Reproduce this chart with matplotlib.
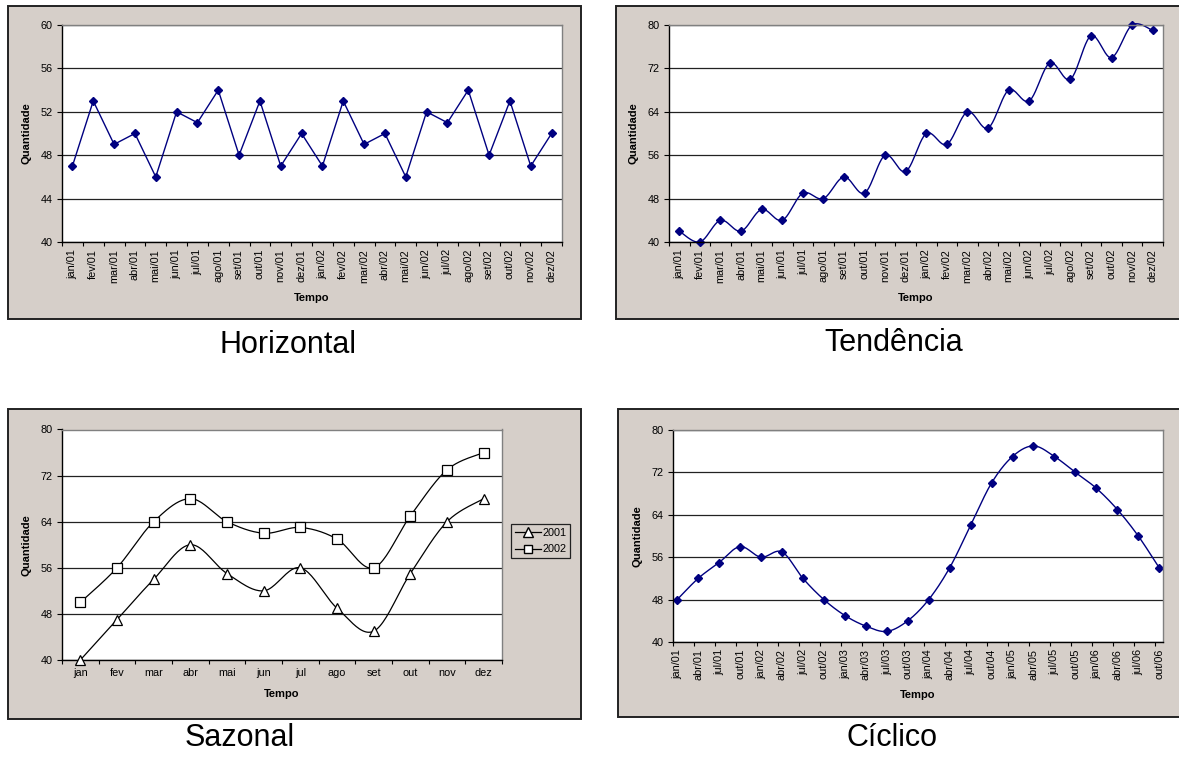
import numpy as np
import matplotlib
matplotlib.use("Agg")
import matplotlib.pyplot as plt
from matplotlib.patches import Rectangle

plt.rcParams["font.family"] = ["Liberation Sans", "DejaVu Sans"]

# --- data -------------------------------------------------------------
meses = ["jan", "fev", "mar", "abr", "mai", "jun",
         "jul", "ago", "set", "out", "nov", "dez"]
meses_2anos = [f"{m}/01" for m in meses] + [f"{m}/02" for m in meses]

horizontal = [47, 53, 49, 50, 46, 52, 51, 54, 48, 53, 47, 50,
              47, 53, 49, 50, 46, 52, 51, 54, 48, 53, 47, 50]

tendencia = [42, 40, 44, 42, 46, 44, 49, 48, 52, 49, 56, 53,
             60, 58, 64, 61, 68, 66, 73, 70, 78, 74, 80, 79]

sazonal_2001 = [40, 47, 54, 60, 55, 52, 56, 49, 45, 55, 64, 68]
sazonal_2002 = [50, 56, 64, 68, 64, 62, 63, 61, 56, 65, 73, 76]

trimestres = [f"{m}/{a:02d}" for a in range(1, 7) for m in ["jan", "abr", "jul", "out"]]
ciclico = [48, 52, 55, 58, 56, 57, 52, 48, 45, 43, 42, 44,
           48, 54, 62, 70, 75, 77, 75, 72, 69, 65, 60, 54]

W, H = 1179, 760
FRAME = "#d6cfc9"
NAVY = "#000080"
TICK_FS = 7.8
LABEL_FS = 8


def excel_smooth(y, n=24):
    """Bezier smoothing like a spreadsheet 'smoothed line' (Catmull-Rom, 1/6)."""
    pts = np.column_stack([np.arange(len(y)), y]).astype(float)
    out = [pts[:1]]
    t = np.linspace(0, 1, n)[1:, None]
    for i in range(len(pts) - 1):
        p0 = pts[i - 1] if i > 0 else pts[i]
        p1, p2 = pts[i], pts[i + 1]
        p3 = pts[i + 2] if i + 2 < len(pts) else pts[i + 1]
        c1 = p1 + (p2 - p0) / 6
        c2 = p2 - (p3 - p1) / 6
        seg = (1 - t) ** 3 * p1 + 3 * (1 - t) ** 2 * t * c1 + 3 * (1 - t) * t ** 2 * c2 + t ** 3 * p2
        out.append(seg)
    return np.vstack(out)


def frame(fig, x0, y0, x1, y1):
    fig.patches.append(Rectangle((x0 / W, 1 - y1 / H), (x1 - x0) / W, (y1 - y0) / H,
                                 transform=fig.transFigure, facecolor=FRAME,
                                 edgecolor="#222222", linewidth=1.4, zorder=-5))


def make_axes(fig, x0, y0, x1, y1):
    ax = fig.add_axes([x0 / W, 1 - y1 / H, (x1 - x0) / W, (y1 - y0) / H])
    ax.set_facecolor("white")
    for side in ("top", "right"):
        ax.spines[side].set_color("#808080")
        ax.spines[side].set_linewidth(1.0)
    for side in ("left", "bottom"):
        ax.spines[side].set_color("black")
        ax.spines[side].set_linewidth(1.0)
    ax.grid(axis="y", color="#222222", linewidth=0.9)
    ax.set_axisbelow(True)
    ax.tick_params(axis="y", direction="out", length=3.5, width=0.8, labelsize=TICK_FS, pad=3)
    ax.tick_params(axis="x", which="major", length=0, labelsize=TICK_FS, pad=5)
    ax.tick_params(axis="x", which="minor", direction="out", length=3, width=0.8)
    return ax


def labels(ax, xpad=7):
    ax.set_ylabel("Quantidade", fontsize=LABEL_FS, fontweight="bold", labelpad=7)
    ax.set_xlabel("Tempo", fontsize=LABEL_FS, fontweight="bold", labelpad=xpad)


def category_axis(ax, cats, rotate=True):
    n = len(cats)
    ax.set_xlim(-0.5, n - 0.5)
    ax.set_xticks(range(n))
    ax.set_xticklabels(cats, rotation=90 if rotate else 0)
    ax.set_xticks(np.arange(n + 1) - 0.5, minor=True)


fig = plt.figure(figsize=(W / 100, H / 100), dpi=100)

# --- Horizontal -------------------------------------------------------
frame(fig, 8, 5.5, 581, 318.5)
ax = make_axes(fig, 62, 25, 562, 242)
category_axis(ax, meses_2anos)
ax.plot(range(len(horizontal)), horizontal, color=NAVY, lw=1, marker="D", ms=3.8)
ax.set_ylim(40, 60)
ax.set_yticks(range(40, 61, 4))
labels(ax)
fig.text(288 / W, 1 - 345 / H, "Horizontal", ha="center", va="center", fontsize=22)

# --- Tendência --------------------------------------------------------
frame(fig, 616, 6, 1190, 318.5)
ax = make_axes(fig, 669, 25, 1163, 242)
category_axis(ax, meses_2anos)
s = excel_smooth(tendencia)
ax.plot(s[:, 0], s[:, 1], color=NAVY, lw=1, clip_on=False)
ax.plot(range(len(tendencia)), tendencia, ls="none", color=NAVY, marker="D", ms=3.8, clip_on=False)
ax.set_ylim(40, 80)
ax.set_yticks(range(40, 81, 8))
labels(ax)
fig.text(894 / W, 1 - 343 / H, "Tendência", ha="center", va="center", fontsize=22)

# --- Sazonal ----------------------------------------------------------
frame(fig, 8, 409, 581, 718.5)
ax = make_axes(fig, 62, 429.5, 502, 660)
category_axis(ax, meses, rotate=False)
ax.tick_params(axis="x", which="major", pad=6)
for serie, mk, ms in [(sazonal_2001, "^", 7.5), (sazonal_2002, "s", 7)]:
    s = excel_smooth(serie)
    ax.plot(s[:, 0], s[:, 1], color="black", lw=0.9, clip_on=False)
    ax.plot(range(12), serie, ls="none", marker=mk, ms=ms, mfc="white", mec="black",
            mew=0.9, clip_on=False, zorder=3)
ax.set_ylim(40, 80)
ax.set_yticks(range(40, 81, 8))
labels(ax, xpad=8)
handles = [plt.Line2D([], [], color="black", lw=0.9, marker="^", ms=6.5, mfc="white", mec="black"),
           plt.Line2D([], [], color="black", lw=0.9, marker="s", ms=6, mfc="white", mec="black")]
leg = fig.legend(handles, ["2001", "2002"], loc="upper left",
                 bbox_to_anchor=(511 / W, 1 - 524 / H), fontsize=TICK_FS, frameon=True,
                 fancybox=False, edgecolor="#222222", facecolor=FRAME, framealpha=1,
                 handlelength=2.4, handletextpad=0.15, borderpad=0.35, labelspacing=0.6,
                 borderaxespad=0)
leg.get_frame().set_linewidth(0.9)
fig.text(240 / W, 1 - 738 / H, "Sazonal", ha="center", va="center", fontsize=22)

# --- Cíclico ----------------------------------------------------------
frame(fig, 618, 409, 1190, 717)
ax = make_axes(fig, 673, 430, 1163, 642)
n = len(ciclico)
ax.set_xlim(-0.2, n - 1 + 0.18)
ax.set_xticks(range(n))
ax.set_xticklabels(trimestres, rotation=90)
ax.set_xticks(np.arange(n) - 0.2, minor=True)
s = excel_smooth(ciclico)
ax.plot(s[:, 0], s[:, 1], color=NAVY, lw=1, clip_on=False)
ax.plot(range(n), ciclico, ls="none", color=NAVY, marker="D", ms=3.8, clip_on=False)
ax.set_ylim(40, 80)
ax.set_yticks(range(40, 81, 8))
labels(ax)
fig.text(892 / W, 1 - 738 / H, "Cíclico", ha="center", va="center", fontsize=22)

fig.savefig("out.png", dpi=100, facecolor="white")
